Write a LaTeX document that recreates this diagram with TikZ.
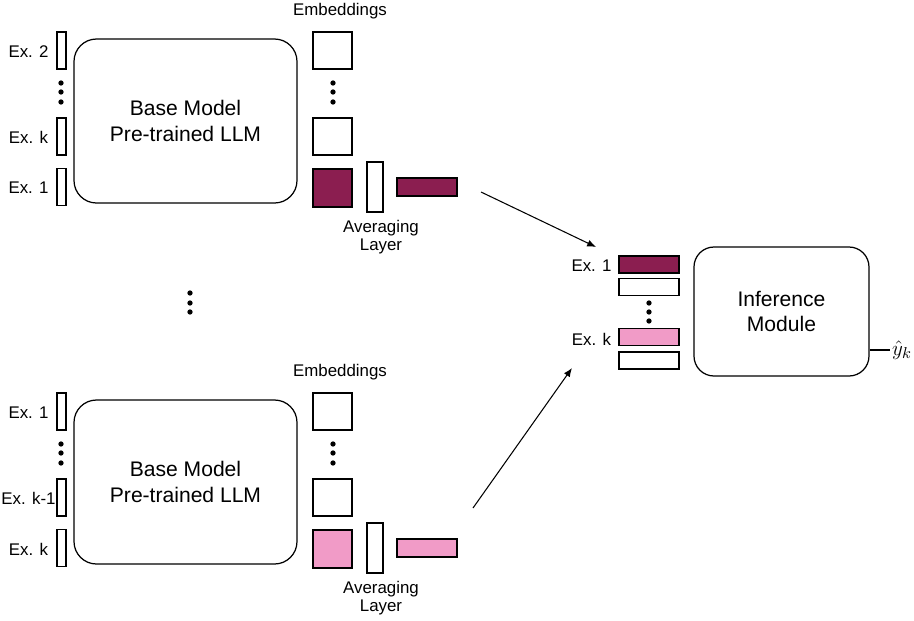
\documentclass[tikz,border=0pt]{standalone}
\usepackage{fontspec}
\setmainfont{Liberation Sans}
\usepackage{tikz}
\usetikzlibrary{positioning}
\usetikzlibrary{arrows.meta}
\usetikzlibrary{calc}
\definecolor{maroon}{RGB}{139,30,80}
\definecolor{pinky}{RGB}{241,155,199}
\tikzstyle{vbar}=[rectangle,draw,line width=0.6pt,fill=white,inner sep=0pt]
\tikzstyle{model}=[rectangle,draw,rounded corners=0.45cm,line width=0.7pt,align=center,font=\fontsize{12}{14.8}\selectfont]
\tikzstyle{smalltext}=[font=\fontsize{9.6}{10.3}\selectfont,align=center,inner sep=0pt]
\tikzstyle{edge}=[draw,line width=0.6pt,-{Latex[length=5pt,width=4pt]}]

\begin{document}
\begin{tikzpicture}[x=0.02cm,y=-0.02cm]

  \def\u{0.02cm}
  \useasboundingbox (0,0) rectangle (914,620);

  % the two base-model blocks
  \foreach \dy/\blk/\col/\la/\lb/\lc in {0/t/maroon/Ex. 2/Ex. k/Ex. 1, 361/b/pinky/Ex. 1/Ex. k-1/Ex. k} {
     \foreach \y/\name/\label in {50.5/a/\la, 136.5/b/\lb, 187/c/\lc} {
        \node[vbar, minimum width=9*\u, minimum height=37*\u] (\blk in\name) at (61.5, \y+\dy) {};
        \node[smalltext] (\blk lab\name) at (28.5, \y+1+\dy) {\label};
     }
     \foreach \y in {83, 92, 102} {
        \fill (61, \y+\dy) circle (1.5pt);
        \fill (333, \y+\dy) circle (1.5pt);
     }
     \node[model, minimum width=223*\u, minimum height=164*\u] (\blk model) at (185.5, 121+\dy) {Base Model\\Pre-trained LLM};

     \node[smalltext] (\blk emblab) at (340, 11+\dy) {Embeddings};
     \foreach \y/\name in {50.5/a, 136.5/b}
        \node[vbar, minimum width=39*\u, minimum height=37*\u] (\blk emb\name) at (332.5, \y+\dy) {};
     \node[vbar, fill=\col, minimum width=39*\u, minimum height=38*\u] (\blk embc) at (332.5, 188+\dy) {};

     \node[vbar, minimum width=16*\u, minimum height=50*\u] (\blk avg) at (375, 187+\dy) {};
     \node[smalltext] (\blk avglab) at (381, 237+\dy) {Averaging\\Layer};
     \node[vbar, fill=\col, minimum width=60*\u, minimum height=18*\u] (\blk vec) at (427, 187+\dy) {};
  }

  \foreach \y in {293, 303, 312}
     \fill (190, \y) circle (1.5pt);

  % inference side
  \foreach \y/\name/\col in {264.5/r1/maroon, 287/r2/white, 337/rk/pinky, 360.5/rk2/white}
     \node[vbar, fill=\col, minimum width=60*\u, minimum height=17*\u] (\name) at (649, \y) {};
  \node[smalltext] (r1lab) at (591.5, 266) {Ex. 1};
  \node[smalltext] (rklab) at (591.5, 339) {Ex. k};
  \foreach \y in {303, 312, 321}
     \fill (649, \y) circle (1.5pt);

  \node[model, rounded corners=0.4cm, font=\fontsize{12}{13.7}\selectfont, minimum width=175*\u, minimum height=129*\u] (inf) at (781.5, 311.5) {Inference\\Module};
  \node[anchor=west, inner sep=1pt, font=\fontsize{12.5}{15}\selectfont] (yhat) at (890, 350) {$\hat{y}_k$};
  \draw[line width=0.6pt] (yhat.west -| inf.east) -- (yhat.west);

  \coordinate (tfrom) at (481, 192);
  \coordinate (tto) at (596, 247);
  \coordinate (bfrom) at (473, 508);
  \coordinate (bto) at (572, 368);
  \draw[edge] (tfrom) -- (tto);
  \draw[edge] (bfrom) -- (bto);

\end{tikzpicture}
\end{document}
